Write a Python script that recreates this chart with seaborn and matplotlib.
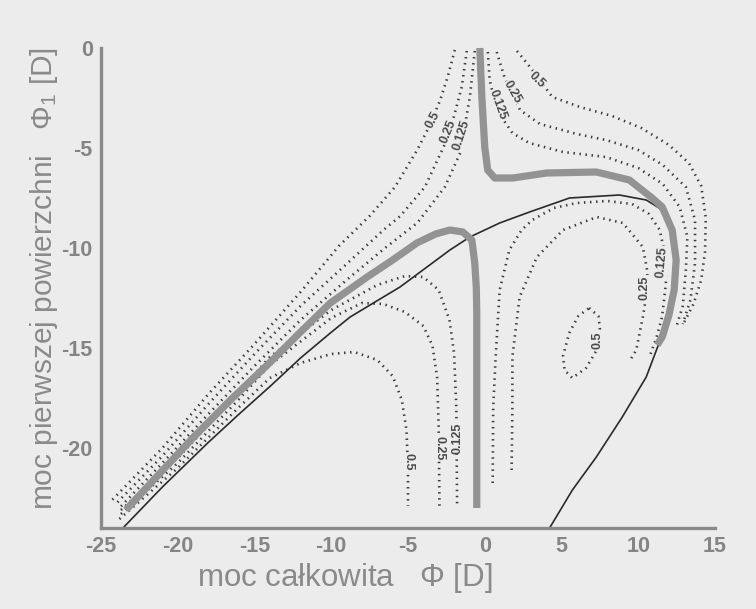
import matplotlib
matplotlib.use("Agg")
import matplotlib.pyplot as plt
import seaborn as sns
import pandas as pd

# ---------------- data ----------------
# thick grey locus, left branch
band_a_x = [-23.38, -21.0, -18.96, -16.5, -13.96, -12.0, -10.06, -7.66, -6.0, -4.42, -3.2, -2.27, -1.43, -0.84, -0.65, -0.55, -0.52, -0.52]
band_a_y = [-23.1, -21.13, -19.45, -17.55, -15.7, -14.2, -12.75, -11.45, -10.6, -9.75, -9.3, -9.1, -9.2, -9.6, -10.75, -12.0, -13.25, -23.0]
# thick grey locus, upper branch
band_b_x = [-0.32, -0.19, 0.0, 0.19, 0.65, 1.82, 4.03, 7.27, 9.42, 10.9, 11.56, 12.21, 12.47, 12.34, 12.0, 11.56, 11.23]
band_b_y = [0.0, -2.45, -4.95, -6.1, -6.5, -6.5, -6.25, -6.2, -6.6, -7.5, -7.95, -9.1, -10.6, -12.1, -13.35, -14.45, -14.85]
# thin dark curve
thin_a_x = [-23.57, -21.0, -18.05, -16.0, -13.96, -12.0, -10.06, -8.77, -5.52, -2.27, -0.97, 0.97, 2.92, 5.52, 8.77, 10.52, 11.36, 11.9]
thin_a_y = [-24.0, -21.95, -19.75, -18.3, -16.9, -15.5, -14.25, -13.45, -11.95, -10.1, -9.45, -8.75, -8.2, -7.5, -7.35, -7.6, -8.0, -8.5]
thin_b_x = [12.14, 11.75, 11.36, 10.52, 8.96, 7.27, 5.71, 4.42, 4.22]
thin_b_y = [-12.6, -14.1, -14.75, -16.45, -18.45, -20.45, -22.1, -23.75, -24.0]

# contour lines (levels 0.5 / 0.25 / 0.125)
ul_05_x = [-1.95, -2.4, -2.9, -3.6, -4.4, -5.85, -7.5, -9.5, -12.0, -15.0, -18.0, -21.0, -24.4]
ul_05_y = [-0.1, -1.4, -2.6, -3.9, -5.1, -6.95, -8.4, -9.9, -12.2, -14.8, -17.3, -20.0, -22.7]
ul_025_x = [-1.17, -1.5, -2.0, -2.47, -3.9, -5.5, -6.6, -9.0, -12.0, -15.0, -18.0, -21.0, -24.1]
ul_025_y = [-0.15, -1.95, -3.4, -4.6, -6.95, -8.4, -9.1, -10.8, -12.9, -15.3, -17.8, -20.4, -22.85]
ul_0125_x = [-0.65, -0.97, -1.6, -2.6, -4.4, -6.5, -9.0, -12.0, -15.0, -18.0, -21.0, -23.8]
ul_0125_y = [-0.15, -2.45, -5.25, -6.95, -8.75, -10.0, -11.6, -13.6, -15.9, -18.3, -20.75, -23.0]

ur_05_x = [2.1, 3.0, 4.4, 6.2, 8.3, 10.2, 12.0, 13.3, 14.1, 14.4, 14.35, 14.1, 13.6, 13.0]
ur_05_y = [-0.15, -1.0, -2.45, -2.95, -3.4, -4.0, -4.85, -5.75, -6.9, -8.5, -10.2, -11.6, -12.8, -13.7]
ur_025_x = [0.78, 1.3, 2.3, 3.6, 6.0, 7.9, 10.0, 11.6, 13.1, 13.7, 13.7, 13.4, 12.9]
ur_025_y = [-0.2, -1.5, -3.1, -3.8, -4.3, -4.6, -5.1, -5.85, -6.95, -8.6, -10.75, -12.6, -13.8]
ur_0125_x = [0.2, 0.32, 0.78, 1.8, 2.9, 5.1, 7.9, 10.0, 11.6, 12.7, 13.2, 13.1, 12.9, 12.5]
ur_0125_y = [-0.2, -1.6, -3.1, -4.25, -4.75, -5.2, -5.45, -6.0, -6.8, -7.95, -9.45, -11.1, -12.9, -13.9]

lo_05_x = [-23.8, -20.0, -16.0, -14.0, -12.0, -10.0, -8.5, -7.0, -6.0, -5.4, -5.1, -5.0, -5.0]
lo_05_y = [-23.55, -21.0, -17.95, -16.5, -15.75, -15.3, -15.2, -15.6, -16.4, -17.6, -19.1, -21.0, -22.9]
lo_025_x = [-23.7, -20.0, -16.0, -14.0, -10.0, -8.0, -6.6, -5.2, -4.0, -3.4, -3.1, -3.0, -2.95]
lo_025_y = [-23.3, -20.75, -17.55, -15.85, -13.5, -12.75, -12.8, -13.2, -13.9, -14.9, -16.5, -19.0, -22.9]
lo_0125_x = [-23.7, -20.0, -16.0, -14.0, -10.0, -7.0, -5.2, -4.0, -3.0, -2.3, -2.0, -1.85, -1.8]
lo_0125_y = [-23.1, -20.5, -17.2, -15.45, -13.1, -11.85, -11.4, -11.45, -12.1, -13.6, -15.25, -18.0, -22.9]

ri_025_x = [1.75, 1.8, 1.8, 2.27, 3.4, 5.1, 7.3, 9.0, 10.3, 10.6, 10.5, 10.3, 9.87, 9.4]
ri_025_y = [-21.1, -18.0, -15.45, -12.45, -10.45, -9.1, -8.45, -8.75, -9.95, -11.2, -12.5, -13.45, -15.1, -15.7]
ri_0125_x = [0.52, 0.55, 0.7, 0.97, 1.6, 2.4, 3.1, 4.5, 6.0, 8.0, 9.6, 10.7, 11.4, 11.8, 11.8, 11.55, 11.2, 10.8]
ri_0125_y = [-21.75, -18.0, -15.6, -12.1, -10.1, -9.1, -8.6, -8.0, -7.75, -7.65, -7.8, -8.3, -9.1, -10.5, -11.8, -13.45, -14.45, -15.3]
ell_05_x = [6.8, 7.4, 7.5, 7.3, 6.6, 5.7, 5.2, 5.1, 5.5, 6.1, 6.8]
ell_05_y = [-13.0, -13.4, -14.0, -15.1, -16.0, -16.5, -16.1, -15.4, -14.25, -13.4, -13.0]

# contour labels: text, x, y, rotation
label_text = ["0.5", "0.25", "0.125", "0.5", "0.25", "0.125", "0.25", "0.125", "0.5", "0.5", "0.25", "0.125"]
label_x = [-3.38, -2.4, -1.5, 3.38, 1.82, 0.84, 10.4, 11.56, 7.34, -4.94, -2.92, -1.75]
label_y = [-3.6, -4.2, -4.35, -1.6, -2.2, -2.85, -12.0, -10.7, -14.6, -20.7, -20.0, -19.5]
label_rot = [62, 68, 72, -45, -60, -70, 90, 85, 90, -90, -90, 90]

x_ticks = [-25, -20, -15, -10, -5, 0, 5, 10, 15]
y_ticks = [0, -5, -10, -15, -20]
x_label = "moc całkowita   $\\Phi$ [D]"
y_label = "moc pierwszej powierzchni   $\\Phi_1$ [D]"

# ---------------- drawing ----------------
BG = "#ececec"
sns.set_theme(style="white")
plt.rcParams["font.family"] = ["Liberation Sans", "DejaVu Sans"]
plt.rcParams["mathtext.fontset"] = "custom"
plt.rcParams["mathtext.rm"] = "Liberation Sans"
plt.rcParams["mathtext.it"] = "Liberation Sans"

fig = plt.figure(figsize=(7.56, 6.09), dpi=100, facecolor=BG)
ax = fig.add_axes([101 / 756, 81 / 609, 614 / 756, 480 / 609])
ax.set_facecolor(BG)


def draw(xs, ys, **kw):
    df = pd.DataFrame({"x": xs, "y": ys})
    sns.lineplot(data=df, x="x", y="y", sort=False, estimator=None, ax=ax,
                 legend=False, clip_on=False, **kw)


dot = dict(color="#3a3a3a", lw=1.9, linestyle=(0, (0.55, 1.75)))
for xs, ys in [(ul_05_x, ul_05_y), (ul_025_x, ul_025_y), (ul_0125_x, ul_0125_y),
               (ur_05_x, ur_05_y), (ur_025_x, ur_025_y), (ur_0125_x, ur_0125_y),
               (lo_05_x, lo_05_y), (lo_025_x, lo_025_y), (lo_0125_x, lo_0125_y),
               (ri_025_x, ri_025_y), (ri_0125_x, ri_0125_y), (ell_05_x, ell_05_y)]:
    draw(xs, ys, **dot)

draw(thin_a_x, thin_a_y, color="#2a2a2a", lw=1.2)
draw(thin_b_x, thin_b_y, color="#2a2a2a", lw=1.2)
draw(band_a_x, band_a_y, color="#939393", lw=5.2, solid_capstyle="butt")
draw(band_b_x, band_b_y, color="#939393", lw=5.2, solid_capstyle="butt")

for t, x, y, r in zip(label_text, label_x, label_y, label_rot):
    ax.text(x, y, t, rotation=r, ha="center", va="center", fontsize=9,
            fontweight="bold", color="#4a4a4a", rotation_mode="anchor",
            bbox=dict(facecolor=BG, edgecolor="none", pad=0.3), zorder=5)

ax.set_xlim(-25, 15)
ax.set_ylim(-24, 0)
ax.set_xticks(x_ticks)
ax.set_yticks(y_ticks)
ax.set_xticklabels([str(v) for v in x_ticks])
ax.set_yticklabels([str(v) for v in y_ticks])
for s in ["top", "right"]:
    ax.spines[s].set_visible(False)
for s in ["left", "bottom"]:
    ax.spines[s].set_color("#8a8a8a")
    ax.spines[s].set_linewidth(2.4)
ax.tick_params(direction="in", length=6, width=2, color="#8a8a8a",
               labelsize=15.5, labelcolor="#858585", pad=6)
for lab in ax.get_xticklabels() + ax.get_yticklabels():
    lab.set_fontweight("bold")
ax.set_xlabel(x_label, fontsize=22.5, color="#8a8a8a")
ax.set_ylabel(y_label, fontsize=21.5, color="#8a8a8a")
ax.xaxis.set_label_coords((345 - 101) / 614, -(561 - 528) / 480)
ax.yaxis.set_label_coords((60 - 101) / 614, (528 - 278) / 480)
ax.grid(False)

fig.savefig("out.png", dpi=100, facecolor=BG)
